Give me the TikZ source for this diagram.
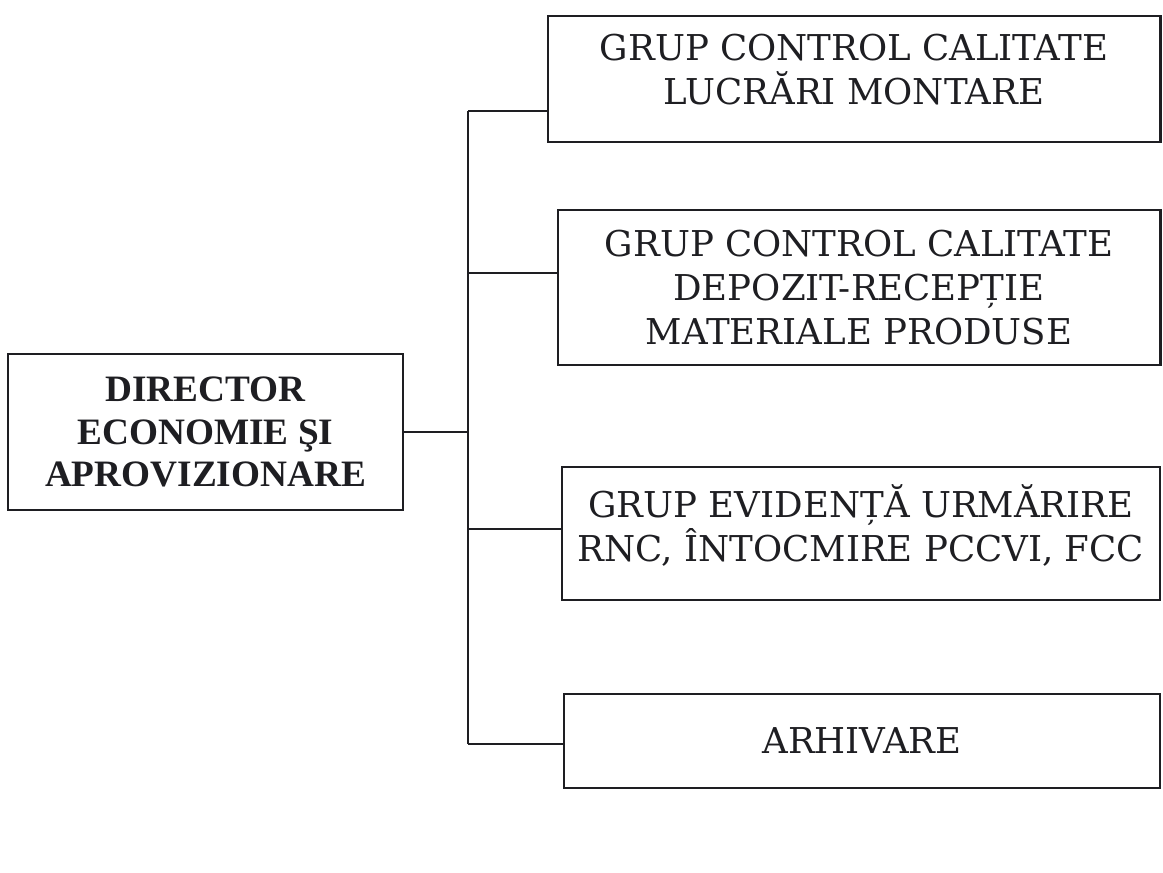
\documentclass[tikz,border=0pt]{standalone}
\usepackage{fontspec}
\newfontfamily\timesfont{Liberation Serif}
\newfontfamily\bookfont{DejaVu Serif}
\usetikzlibrary{positioning,calc}
\definecolor{ink}{RGB}{30,30,34}
\tikzset{unit/.style={draw=ink,line width=2pt,inner sep=4pt,align=center,text=ink,
    font=\bookfont\fontsize{25.3}{31.5}\selectfont},
  head/.style={unit,font=\timesfont\bfseries\fontsize{26.5}{30}\selectfont},
  link/.style={draw=ink,line width=1.8pt}}

\begin{document}
\begin{tikzpicture}[x=0.025cm,y=-0.025cm]
\useasboundingbox (0,0) rectangle (1163,873);
\node[head,minimum width=9.875cm,minimum height=3.9cm] (dir) at (205.5,432)
  {DIRECTOR\\ECONOMIE ŞI\\APROVIZIONARE};
\node[unit,minimum width=15.3cm,minimum height=3.15cm,text depth=0.5cm] (g1) at (854,79)
  {GRUP CONTROL CALITATE\\LUCRĂRI MONTARE};
\node[unit,minimum width=15.05cm,minimum height=3.875cm] (g2) at (859,287.5)
  {GRUP CONTROL CALITATE\\DEPOZIT-RECEPȚIE\\MATERIALE PRODUSE};
\node[unit,minimum width=14.95cm,minimum height=3.325cm,text depth=0.52cm] (g3) at (861,533.5)
  {GRUP EVIDENȚĂ URMĂRIRE\\RNC, ÎNTOCMIRE PCCVI, FCC};
\node[unit,minimum width=14.9cm,minimum height=2.35cm] (g4) at (862,741)
  {ARHIVARE};
% bus
\coordinate (j1) at (468,111);
\coordinate (j2) at (468,273);
\coordinate (j3) at (468,529);
\coordinate (j4) at (468,744);
\draw[link] (j1) -- (j4);
\draw[link] (dir.east) -- (dir.east -| j1);
\draw[link] (j1) -- (j1 -| g1.west);
\draw[link] (j2) -- (j2 -| g2.west);
\draw[link] (j3) -- (j3 -| g3.west);
\draw[link] (j4) -- (j4 -| g4.west);
\end{tikzpicture}
\end{document}
